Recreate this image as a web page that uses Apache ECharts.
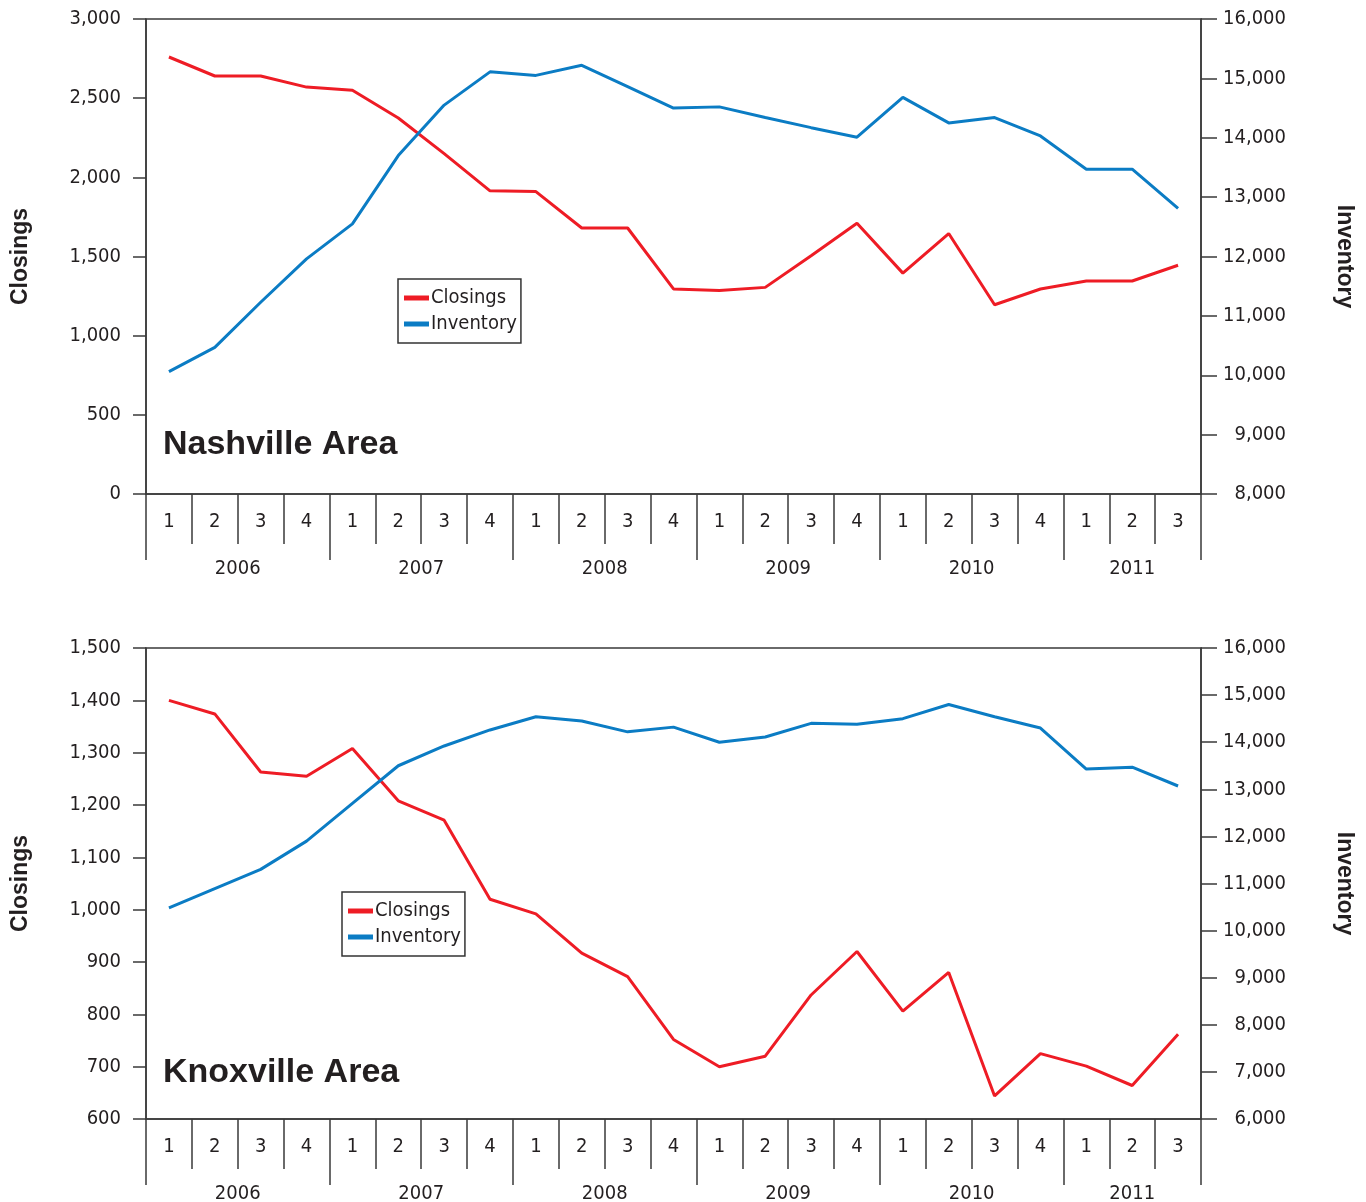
<!DOCTYPE html>
<html>
<head>
<meta charset="utf-8">
<title>Closings and Inventory</title>
<script src="https://cdn.jsdelivr.net/npm/echarts@6/dist/echarts.min.js"></script>
<style>
  html, body { margin: 0; padding: 0; background: #fff; }
  #chart { width: 1366px; height: 1202px; }
</style>
</head>
<body>
<div id="chart"></div>
<script>
// quarters 2006 Q1 .. 2011 Q3
const quarters = ['1', '2', '3', '4', '1', '2', '3', '4', '1', '2', '3', '4',
  '1', '2', '3', '4', '1', '2', '3', '4', '1', '2', '3'];
const years = ['2006', '2007', '2008', '2009', '2010', '2011'];

const nashvilleClosings = [2760, 2640, 2640, 2570, 2550, 2375, 2150, 1915, 1910, 1680, 1680, 1295,
  1285, 1305, 1505, 1710, 1395, 1645, 1195, 1295, 1345, 1345, 1445];
const nashvilleInventory = [10060, 10470, 11230, 11960, 12550, 13700, 14550, 15110, 15050, 15220, 14860, 14500,
  14520, 14340, 14170, 14010, 14680, 14250, 14340, 14030, 13470, 13470, 12810];

const knoxvilleClosings = [1400, 1374, 1263, 1255, 1308, 1208, 1171, 1020, 992, 917, 872, 752,
  700, 720, 837, 920, 806, 880, 644, 725, 701, 664, 762];
const knoxvilleInventory = [10480, 10890, 11300, 11900, 12700, 13500, 13920, 14260, 14540, 14450, 14220, 14320,
  14000, 14110, 14400, 14380, 14500, 14800, 14540, 14300, 13430, 13470, 13070];

const RED = '#ee1c25';
const BLUE = '#0b7cc4';
const INK = '#231f20';
const LINE = '#3a3a3a';
const NARROW = "'DejaVu Sans Condensed', 'Liberation Sans Narrow', 'Liberation Sans', sans-serif";
const BOLD = "'Liberation Sans', Arial, sans-serif";

// year boundaries (in quarters) and where the year names sit
const yearTicks = [0, 4, 8, 12, 16, 20, 23];
const yearCenters = [2, 6, 10, 14, 18, 21.5];

const chart = echarts.init(document.getElementById('chart'), null, { renderer: 'canvas' });

const option = {
  animation: false,
  backgroundColor: '#fff',
  title: [], legend: [], grid: [], xAxis: [], yAxis: [], series: []
};

function addPanel(idx, cfg) {
  const ax = idx * 2;
  option.grid.push({
    left: 146, right: 165, top: cfg.top, height: cfg.height,
    show: true, borderColor: LINE, borderWidth: 1.5, backgroundColor: 'transparent',
    outerBoundsMode: 'none'
  });
  option.title.push({
    text: cfg.title, left: 163, top: cfg.titleTop, padding: 0,
    textStyle: { fontFamily: BOLD, fontSize: 34, fontWeight: 'bold', color: INK }
  });
  option.legend.push({
    orient: 'vertical', left: cfg.legendLeft, top: cfg.legendTop,
    data: ['Closings', 'Inventory'], icon: 'rect', itemWidth: 25, itemHeight: 5, itemGap: 6,
    borderColor: '#333', borderWidth: 1.5, padding: [9, 4, 9, 6], selectedMode: false,
    textStyle: { fontFamily: NARROW, fontSize: 20, color: INK, padding: [0, 0, 0, -3] }
  });
  // quarter numbers, ticks on the band edges
  option.xAxis.push({
    type: 'category', gridIndex: idx, data: quarters, position: 'bottom',
    axisLine: { lineStyle: { color: LINE, width: 1.5 } },
    axisTick: { show: true, length: 50, lineStyle: { color: LINE, width: 1.5 } },
    axisLabel: { margin: 18, fontFamily: NARROW, fontSize: 20, color: INK }
  });
  // years, longer ticks at year boundaries
  option.xAxis.push({
    type: 'value', gridIndex: idx, min: 0, max: 23, position: 'bottom',
    axisLine: { show: false }, splitLine: { show: false },
    axisTick: { show: true, length: 66, customValues: yearTicks, lineStyle: { color: LINE, width: 1.5 } },
    axisLabel: {
      margin: 65, fontFamily: NARROW, fontSize: 20, color: INK, customValues: yearCenters,
      formatter: v => years[yearCenters.indexOf(v)] || ''
    }
  });
  option.yAxis.push({
    type: 'value', gridIndex: idx, position: 'left',
    min: cfg.left.min, max: cfg.left.max, interval: cfg.left.interval,
    name: 'Closings', nameLocation: 'middle', nameGap: 114, nameRotate: 90,
    nameTextStyle: { fontFamily: BOLD, fontSize: 23, fontWeight: 'bold', color: INK },
    axisLine: { show: true, lineStyle: { color: LINE, width: 1.5 } },
    axisTick: { show: true, length: 13, lineStyle: { color: LINE, width: 1.5 } },
    splitLine: { show: false },
    axisLabel: {
      margin: 25, fontFamily: NARROW, fontSize: 20, color: INK,
      formatter: v => v.toLocaleString('en-US')
    }
  });
  option.yAxis.push({
    type: 'value', gridIndex: idx, position: 'right',
    min: cfg.right.min, max: cfg.right.max, interval: cfg.right.interval,
    name: 'Inventory', nameLocation: 'middle', nameGap: 132, nameRotate: -90,
    nameTextStyle: { fontFamily: BOLD, fontSize: 23, fontWeight: 'bold', color: INK, padding: [0, 0, 0, cfg.nameShift] },
    axisLine: { show: true, lineStyle: { color: LINE, width: 1.5 } },
    axisTick: { show: true, length: 16, lineStyle: { color: LINE, width: 1.5 } },
    splitLine: { show: false },
    axisLabel: {
      margin: 85, align: 'right', fontFamily: NARROW, fontSize: 20, color: INK,
      formatter: v => v.toLocaleString('en-US')
    }
  });
  option.series.push({
    name: 'Closings', type: 'line', xAxisIndex: ax, yAxisIndex: ax,
    data: cfg.closings, symbol: 'none', lineStyle: { color: RED, width: 3 }, itemStyle: { color: RED }
  });
  option.series.push({
    name: 'Inventory', type: 'line', xAxisIndex: ax, yAxisIndex: ax + 1,
    data: cfg.inventory, symbol: 'none', lineStyle: { color: BLUE, width: 3 }, itemStyle: { color: BLUE }
  });
}

addPanel(0, {
  title: 'Nashville Area', top: 19, height: 475, titleTop: 428,
  legendLeft: 398, legendTop: 279, nameShift: 0,
  left: { min: 0, max: 3000, interval: 500 },
  right: { min: 8000, max: 16000, interval: 1000 },
  closings: nashvilleClosings, inventory: nashvilleInventory
});

addPanel(1, {
  title: 'Knoxville Area', top: 648, height: 471, titleTop: 1056,
  legendLeft: 342, legendTop: 892, nameShift: 0,
  left: { min: 600, max: 1500, interval: 100 },
  right: { min: 6000, max: 16000, interval: 1000 },
  closings: knoxvilleClosings, inventory: knoxvilleInventory
});

chart.setOption(option);
window.addEventListener('resize', () => { chart.resize(); });
</script>
</body>
</html>
